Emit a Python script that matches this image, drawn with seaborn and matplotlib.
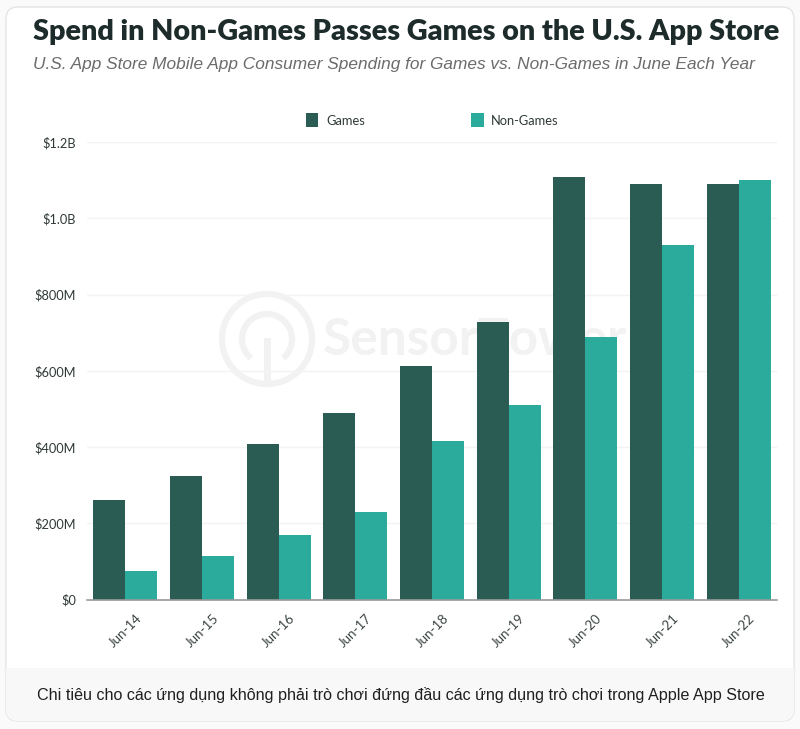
import matplotlib
matplotlib.use('Agg')
import matplotlib.pyplot as plt
from matplotlib.patches import Arc, Circle, FancyBboxPatch, Rectangle
import pandas as pd
import seaborn as sns

months = ['Jun-14', 'Jun-15', 'Jun-16', 'Jun-17', 'Jun-18', 'Jun-19', 'Jun-20', 'Jun-21', 'Jun-22']
games = [261, 324, 408, 489, 612, 728, 1108, 1090, 1091]
non_games = [75, 115, 169, 230, 416, 510, 688, 930, 1101]
y_ticks = [0, 200, 400, 600, 800, 1000, 1200]
y_labels = ['$0', '$200M', '$400M', '$600M', '$800M', '$1.0B', '$1.2B']

dark = '#2b5c54'
teal = '#2aab9b'
mark = '#f2f2f2'

sns.set_theme(style='white')
plt.rcParams['font.family'] = ['Lato', 'DejaVu Sans']

W, H = 800, 729
fig = plt.figure(figsize=(W / 100, H / 100), dpi=100, facecolor='#fafafa')

# background layer in pixel coords: card, footer band, watermark
bg = fig.add_axes([0, 0, 1, 1], zorder=0)
bg.set_xlim(0, W)
bg.set_ylim(H, 0)
bg.axis('off')
card = FancyBboxPatch((6, 7), 788, 714, boxstyle='round,pad=0,rounding_size=12',
                      fc='white', ec='#e4e4e4', lw=1)
bg.add_patch(card)
band = Rectangle((6, 668), 788, 54, fc='#f8f8f8', ec='none', zorder=2)
bg.add_patch(band)
band.set_clip_path(card)
bg.add_patch(Circle((267, 339), 45, fc='none', ec=mark, lw=4.5, zorder=3))
bg.add_patch(Arc((267, 339), 50, 50, theta1=130, theta2=50, ec=mark, lw=4.5, zorder=3))
bg.add_patch(Rectangle((264, 338), 7, 46, fc=mark, ec='none', zorder=3))
bg.text(323, 340, 'SensorTower', fontsize=37, fontweight='bold', color=mark,
        va='center', ha='left', zorder=3)

df = pd.DataFrame({
    'month': months * 2,
    'series': ['Games'] * len(months) + ['Non-Games'] * len(months),
    'value': games + non_games,
})

ax = fig.add_axes([87 / W, 1 - 599.5 / H, 690 / W, 457.5 / H], zorder=1)
ax.patch.set_alpha(0)
sns.barplot(data=df, x='month', y='value', hue='series', palette=[dark, teal],
            width=0.835, gap=0, saturation=1, legend=False, linewidth=0, ax=ax)
ax.set_xlim(-0.5, 8.5)
ax.set_ylim(0, 1200)
ax.set_xlabel('')
ax.set_ylabel('')
ax.set_yticks(y_ticks)
ax.set_yticklabels(y_labels)
ax.grid(axis='y', color='#f3f3f3', lw=1)
ax.set_axisbelow(True)
sns.despine(ax=ax, left=True)
ax.spines['bottom'].set_color('#9a9a9a')
ax.spines['bottom'].set_linewidth(1.2)
ax.tick_params(axis='y', length=0, pad=8, labelsize=9.2, labelcolor='#2f3a38')
ax.tick_params(axis='x', length=0, pad=9, labelsize=9.5, labelcolor='#3c4644')
for t in ax.get_xticklabels():
    t.set_rotation(45)
    t.set_ha('center')

# legend
bg.add_patch(Rectangle((306, 113), 12, 14, fc=dark, ec='none', zorder=3))
bg.add_patch(Rectangle((471, 113), 13, 14, fc=teal, ec='none', zorder=3))
bg.text(326, 120.5, 'Games', fontsize=9.3, color='#2f3a38', va='center', zorder=3)
bg.text(491, 120.5, 'Non-Games', fontsize=9.3, color='#2f3a38', va='center', zorder=3)

bg.text(33, 32, 'Spend in Non-Games Passes Games on the U.S. App Store', fontsize=20.72,
        fontweight='heavy', color='#1d2b2b', va='center', ha='left', zorder=3)
bg.text(33, 64, 'U.S. App Store Mobile App Consumer Spending for Games vs. Non-Games in June Each Year',
        fontsize=12.4, style='italic', color='#6b6b6b', va='center', ha='left', zorder=3,
        family='Liberation Sans')
bg.text(401, 695, 'Chi tiêu cho các ứng dụng không phải trò chơi đứng đầu các ứng dụng trò chơi trong Apple App Store',
        fontsize=11.65, color='#1f1f1f', va='center', ha='center', zorder=3, family='Liberation Sans')

fig.savefig('out.png', dpi=100, facecolor=fig.get_facecolor())
